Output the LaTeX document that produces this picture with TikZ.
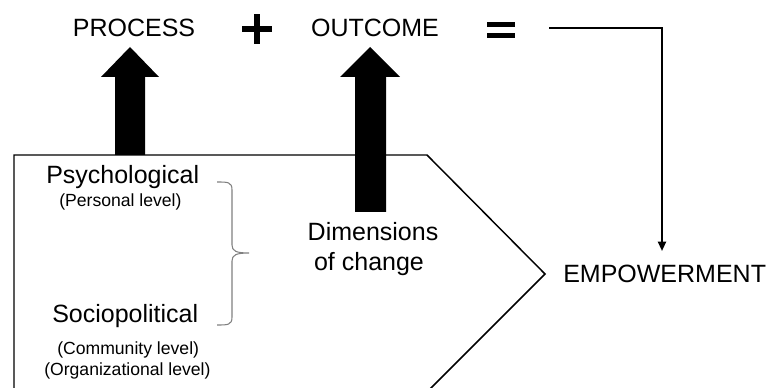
\documentclass[tikz,border=0pt]{standalone}
\usepackage{fontspec}
\setmainfont{Liberation Sans}
\usetikzlibrary{arrows.meta}
\begin{document}
\begin{tikzpicture}[x=0.75pt,y=-0.75pt,
  big/.style={font=\fontsize{18.75pt}{22pt}\selectfont, inner sep=0pt},
  small/.style={font=\fontsize{13.2pt}{16pt}\selectfont, inner sep=0pt},
  outline/.style={line width=1.1pt, black},
  blockarrow/.style={fill=black, draw=none}]
\useasboundingbox (0,0) rectangle (771,388);
% pentagon
\coordinate (pTL) at (14,155);
\coordinate (pTR) at (427,155);
\coordinate (pTip) at (545,274);
\coordinate (pBR) at (426,393);
\coordinate (pBL) at (14,393);
\draw[outline, line join=miter] (pBL) -- (pTL) -- (pTR) -- (pTip) -- (pBR);
% block arrows
\fill[blockarrow] (115,155) -- (115,77) -- (101,77) -- (130,47) -- (159,77) -- (145,77) -- (145,155) -- cycle;
\fill[blockarrow] (355,212) -- (355,77) -- (340,77) -- (370,47) -- (400,77) -- (386,77) -- (386,212) -- cycle;
% top texts
\node[big, anchor=base] (process) at (134,37) {PROCESS};
\node[big, anchor=base] (outcome) at (375,37) {OUTCOME};
\node[inner sep=0pt] (plus) at (257,29) {};
\fill (plus.center) ++(-15,-3) rectangle ++(30,6);
\fill (plus.center) ++(-3,-15) rectangle ++(6,30);
\node[inner sep=0pt] (eq) at (501,30) {};
\fill (eq.center) ++(-14,-8) rectangle ++(28,5);
\fill (eq.center) ++(-14,3) rectangle ++(28,5);
% empowerment
\node[big, anchor=base west] (emp) at (563,283) {EMPOWERMENT};
\coordinate (lineStart) at (549,28);
\coordinate (lineCorner) at (662,28);
\coordinate (lineEnd) at (662,251);
\draw[line width=1.5pt, -{Triangle[length=7pt,width=6pt]}] (lineStart) -- (lineCorner) -- (lineEnd);
% left texts
\node[big, anchor=base west] (psy) at (46,184) {Psychological};
\node[small, anchor=base west] (pers) at (59,207) {(Personal level)};
\node[big, anchor=base west] (soc) at (52,323) {Sociopolitical};
\node[small, anchor=base west] (comm) at (57,354) {(Community level)};
\node[small, anchor=base west] (org) at (44,375) {(Organizational level)};
% brace
\draw[gray, line width=0.8pt] (217,182) .. controls (228,182) and (232,182) .. (232,190)
  -- (232,245) .. controls (232,251) and (236,253) .. (249,253)
  .. controls (236,253) and (232,255) .. (232,261)
  -- (232,317) .. controls (232,325) and (228,325) .. (217,325);
% dimensions
\node[big, anchor=base] (dim1) at (373,241) {Dimensions};
\node[big, anchor=base] (dim2) at (369,271) {of change};
\end{tikzpicture}
\end{document}
